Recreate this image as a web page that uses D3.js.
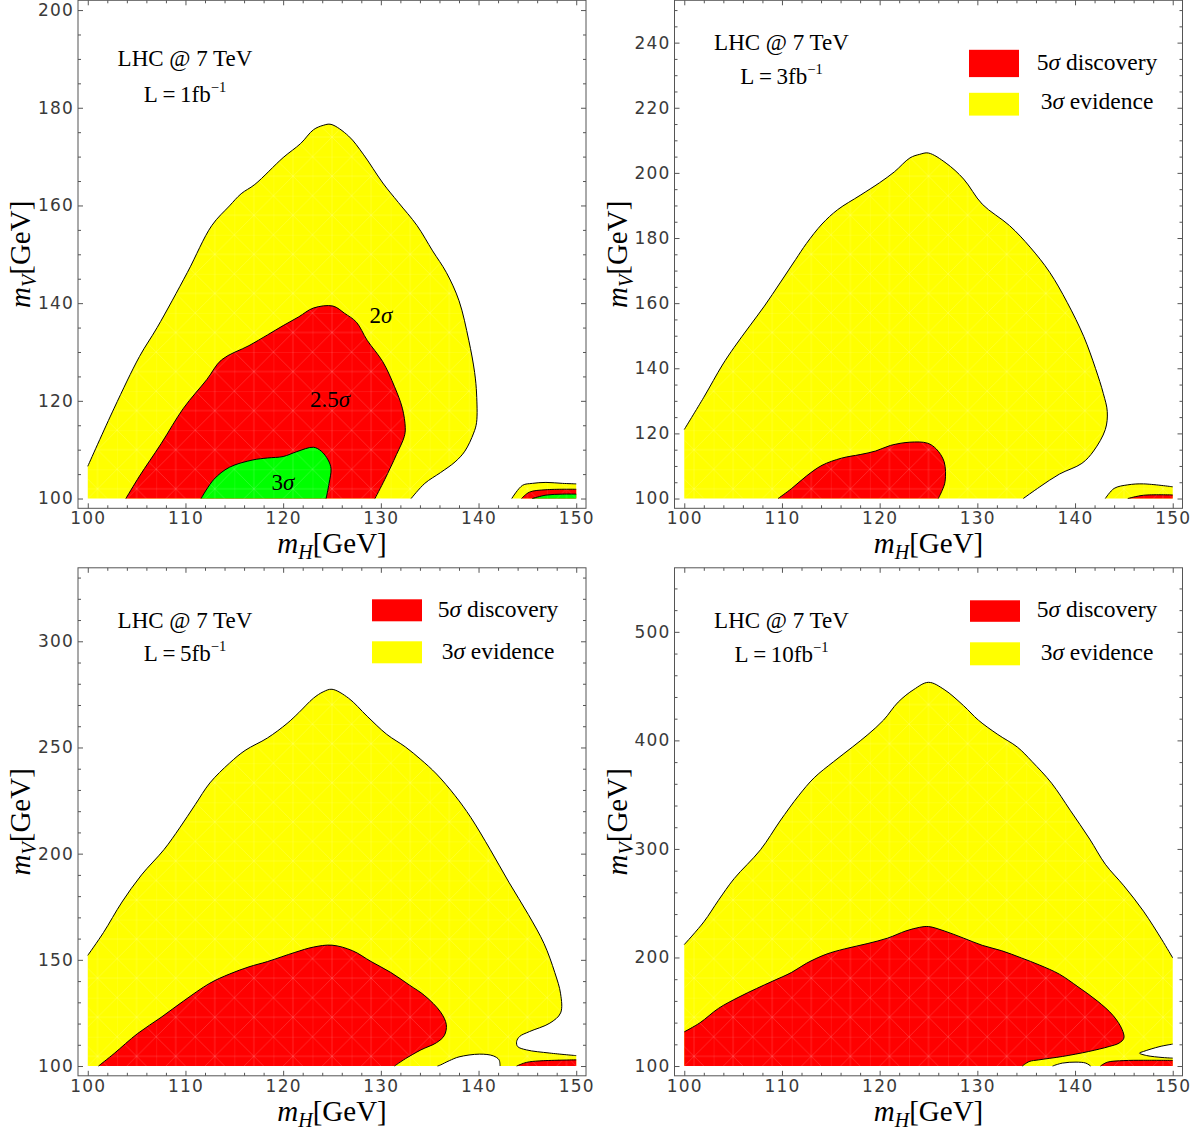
<!DOCTYPE html>
<html>
<head>
<meta charset="utf-8">
<script src="https://cdn.jsdelivr.net/npm/d3@7"></script>
<style>
body { margin: 0; background: #fff; }
svg { display: block; }
svg text { font-family: "Liberation Serif", "Times New Roman", serif; fill: #000; }
.axis .tick text { font-family: "DejaVu Sans", sans-serif; font-size: 17px; fill: #3a3a3a; letter-spacing: 1.2px; }
.axis .tick line { stroke: #555; }
</style>
</head>
<body>
<script>
var width = 1200, height = 1130;
var size = 508;          // side of each square frame
var yBase = 100;         // lower edge of the scanned region

// mH axis, same for all panels
var xDomain = [99, 151];
var xTicks = [100, 110, 120, 130, 140, 150];
var xMinorStep = 2;

// ---- panel 1 : L = 1 fb^-1 ----
var p1Ticks = [100, 120, 140, 160, 180, 200];
var p1Yellow = [[100,106.6],[102.7,118.5],[105.3,129.1],[107.1,135],[110.2,146.3],[112.7,155.9],[114.5,159.9],[115.7,162.4],[117.1,164.3],[120,169.8],[121.8,172.7],[123.1,175.5],[124.1,176.4],[124.9,176.6],[126.7,174.2],[128.2,170.5],[130.2,164.6],[131.8,160.6],[133.7,155.9],[135.3,150.7],[136.7,146.3],[138,140.5],[139,132.4],[139.6,125.8],[139.8,121.4],[139.8,115.6],[139.5,113.4],[138.6,109.7],[137.6,107.5],[136.1,105.3],[134.5,103.1],[133.1,100]];
var p1Red = [[103.9,100],[105.3,104.6],[107.5,111.2],[109.8,118.5],[112.2,124.4],[113.7,128.4],[116.5,131.3],[118.4,133.5],[120,135.4],[121.6,137.2],[123.1,139],[125.1,139.4],[126.3,137.9],[127.5,136.1],[128.6,132.4],[130.2,128],[131.4,122.9],[132.2,118.5],[132.5,114.5],[132.4,112.7],[131.6,109],[130.4,103.9],[129.4,100]];
var p1Green = [[111.6,100],[112.9,103.9],[114.5,106.4],[116.9,107.9],[118.4,108.3],[120,108.6],[121.4,109.6],[123.1,110.5],[123.9,109.7],[124.6,107.9],[124.9,106.1],[124.7,103.1],[124.4,100]];
var p1CornerYellow = [[143.4,100],[144.5,102.7],[145.5,103.1],[146.9,103.3],[148.6,103.1],[150,103]];
var p1CornerRed = [[144.4,100],[145.2,101.3],[146.9,101.8],[150,101.9]];
var p1CornerGreen = [[145.5,100],[146.9,100.7],[148.6,100.9],[150,100.9]];

// ---- panel 2 : L = 3 fb^-1 ----
var p2Ticks = [100, 120, 140, 160, 180, 200, 220, 240];
var p2Yellow = [[100,121.2],[102,131.1],[103.9,141],[105.1,146.4],[106.7,153],[108.2,159.1],[109.8,166.2],[111.4,173.4],[112.5,178.3],[114.1,184.3],[115.7,188.7],[118,193.1],[120,197],[121.5,200.3],[123.1,204.6],[124.1,205.7],[125,206.1],[126.8,203],[128.6,198.1],[130.5,190.4],[133.3,183.8],[135.4,177.2],[137.4,169.5],[139.2,160.2],[140.9,149.7],[142.1,139.9],[142.9,132.2],[143.3,126.7],[143.1,121.2],[141.9,114.6],[140.7,110.8],[138.4,107.5],[136.4,103.6],[134.7,100]];
var p2Red = [[109.6,100],[111,103.1],[112.5,106.9],[114.1,110.2],[116.1,112.4],[118,113.5],[119.6,114.6],[121.1,116.3],[123.1,117.3],[124.9,117],[125.8,115.2],[126.6,111.3],[126.7,105.3],[126.4,102.5],[126,100]];
var p2CornerYellow = [[143.1,100],[144,103.1],[145.4,104.2],[147,104.5],[150,103.6]];
var p2CornerRed = [[145.4,100],[147,101],[150,101.1]];

// ---- panel 3 : L = 5 fb^-1 ----
var p3Ticks = [100, 150, 200, 250, 300];
var p3Yellow = [[100,152.1],[101.6,162.8],[103.5,177.2],[105.5,190],[107.8,201.9],[109.4,212.1],[111,223.1],[112.5,233.3],[114.5,242.6],[116.1,248.6],[118.4,254.5],[120.4,261.3],[121.6,266.4],[123.1,273.2],[124.1,276.2],[125,277.4],[126.7,273.2],[128.6,264.7],[130.6,256.2],[132.5,250.3],[134.1,244.3],[135.7,237.5],[137.6,227.3],[139.2,217.1],[141.2,201.9],[143.1,186.6],[145.1,171.3],[146.7,157.7],[147.8,144.1],[148.4,134],[148.4,125],[147.3,120.2],[145.2,116.2],[144.2,113.9],[143.9,111.5],[144,109.2],[144.9,107.6],[147.3,106.1],[150,104.9]];
var p3Hole = [[142.2,100],[142.1,102.9],[141.5,104.8],[140.1,105.6],[138,104.3],[137,102.5],[136.1,100.5],[135.8,100]];
var p3Red = [[101.1,100],[102.7,105.9],[105.1,115.3],[107.5,122.9],[109.8,130.6],[112.5,139],[114.5,143.3],[116.5,146.7],[118.4,149.2],[121.2,153.5],[123.1,156],[125,156.9],[127.1,154.3],[129,149.2],[131,144.1],[132.9,138.2],[134.5,133.1],[136.1,125.5],[136.7,119.5],[136.5,114.4],[135.7,111],[134.1,107.6],[132.5,103.4],[131.4,100]];
var p3CornerRed = [[143.9,100],[144.9,101.7],[146.2,102.4],[150,102.9]];

// ---- panel 4 : L = 10 fb^-1 ----
var p4Ticks = [100, 200, 300, 400, 500];
var p4Yellow = [[100,211.9],[102,232.8],[103.5,252.7],[105.1,272.6],[107.8,299.2],[109.8,325.7],[111.7,349],[113.3,365.6],[115.3,380.5],[117.2,393.8],[118.8,405.4],[120.4,418.7],[121.9,435.3],[123.5,446.9],[125,453.5],[126.6,446.9],[128.6,431.9],[130.1,418.7],[132.1,405.4],[134.1,393.8],[135.6,380.5],[137.6,360.6],[139.5,335.7],[141.5,309.1],[143.1,285.9],[145,266],[147,242.7],[148.9,216.2],[150,199.6]];
var p4Notch = [[150,120.2],[148.7,118],[147,113.4],[146.6,111.9],[147.3,109.7],[149,107.8],[150,107.3]];
var p4Hole = [[141.6,100],[141.1,102.7],[140.1,103.6],[138.7,102.7],[137.7,100]];
var p4Red = [[100,131.5],[101.6,139.8],[103.5,153.1],[105.5,163.1],[107.4,171.4],[109,178],[111,186.3],[112.5,194.6],[114.5,202.9],[116.4,207.9],[118.8,212.9],[120.8,217.8],[122.7,224.5],[124.1,227.8],[125,228.5],[126.6,224.5],[128.6,217.8],[130.5,211.2],[132.5,206.2],[134.5,199.6],[136.4,192.9],[138.4,184.6],[140.3,173],[142.3,159.8],[143.9,146.5],[144.8,134],[145,125.7],[144.5,121.1],[143.5,118],[141.4,113.4],[138.7,108.8],[136.3,105.7],[135.3,104.1],[134.6,100]];
var p4CornerRed = [[142.6,100],[143.3,103.5],[145,105],[147,105.3],[150,105.2]];

var YELLOW = "#ffff00", RED = "#ff0000", GREEN = "#00ff00";

var panels = [
    {left: 78, top: 0.3, yDomain: [98, 202], yTicks: p1Ticks, yMinor: 5, lumi: "1",
     lhcY: 66, lumiY: 102, legend: null,
     regions: [
        {fill: YELLOW, pieces: [p1Yellow]}, {fill: YELLOW, pieces: [p1CornerYellow]},
        {fill: RED, pieces: [p1Red]}, {fill: RED, pieces: [p1CornerRed]},
        {fill: GREEN, pieces: [p1Green]}, {fill: GREEN, pieces: [p1CornerGreen]}],
     labels: [{num: "2", x: 381, y: 323}, {num: "2.5", x: 330, y: 407}, {num: "3", x: 283, y: 490}]},
    {left: 674.5, top: 0.3, yDomain: [97, 253], yTicks: p2Ticks, yMinor: 5, lumi: "3",
     lhcY: 50, lumiY: 84,
     legend: {rx: 294.5, tx: 422.5, red: [49.5, 27.3], yellow: [92.5, 22.8], ty: [70, 108.5]},
     regions: [
        {fill: YELLOW, pieces: [p2Yellow]}, {fill: YELLOW, pieces: [p2CornerYellow]},
        {fill: RED, pieces: [p2Red]}, {fill: RED, pieces: [p2CornerRed]}],
     labels: []},
    {left: 78, top: 567.8, yDomain: [95.4, 334.6], yTicks: p3Ticks, yMinor: 10, lumi: "5",
     lhcY: 60, lumiY: 93.5,
     legend: {rx: 294, tx: 420, red: [31.5, 22], yellow: [73.5, 22], ty: [49.5, 91.5]},
     regions: [
        {fill: YELLOW, pieces: [p3Yellow, p3Hole]},
        {fill: RED, pieces: [p3Red]}, {fill: RED, pieces: [p3CornerRed]}],
     labels: []},
    {left: 674.5, top: 567.8, yDomain: [91, 559], yTicks: p4Ticks, yMinor: 20, lumi: "10",
     lhcY: 60.5, lumiY: 94,
     legend: {rx: 295.5, tx: 422.5, red: [32.5, 21.5], yellow: [74.5, 23], ty: [49.5, 92.5]},
     regions: [
        {fill: YELLOW, pieces: [p4Yellow, p4Notch, p4Hole]},
        {fill: RED, pieces: [p4Red]}, {fill: RED, pieces: [p4CornerRed]}],
     labels: []}
];

var svg = d3.select("body").append("svg")
    .attr("width", width)
    .attr("height", height);

var defs = svg.append("defs");

// faint white mesh seams seen inside the filled regions
var cell = 19.54;
defs.append("pattern")
    .attr("id", "mesh")
    .attr("patternUnits", "userSpaceOnUse")
    .attr("width", cell * 2)
    .attr("height", cell * 2)
  .append("path")
    .attr("d", "M0,0V" + 2*cell + "M" + cell + ",0V" + 2*cell + "M0,0H" + 2*cell + "M0," + cell + "H" + 2*cell +
               "M0,0L" + 2*cell + "," + 2*cell + "M" + 2*cell + ",0L0," + 2*cell)
    .attr("fill", "none")
    .attr("stroke", "#fff")
    .attr("stroke-opacity", 0.22)
    .attr("stroke-width", 0.7);

panels.forEach(function (p, i) { drawPanel(p, i); });

function sigma(text, num, rest) {
    text.append("tspan").text(num);
    text.append("tspan").attr("font-style", "italic").text("\u03c3");
    if (rest) text.append("tspan").text(rest);
}

function drawPanel(p, i) {
    var g = svg.append("g").attr("transform", "translate(" + p.left + "," + p.top + ")");

    var x = d3.scaleLinear().domain(xDomain).range([0, size]);
    var y = d3.scaleLinear().domain(p.yDomain).range([size, 0]);

    defs.append("clipPath").attr("id", "clip" + i)
        .append("rect").attr("width", size).attr("height", size);

    var plot = g.append("g").attr("clip-path", "url(#clip" + i + ")");

    var smooth = d3.line()
        .x(function (d) { return x(d[0]); })
        .y(function (d) { return y(d[1]); })
        .curve(d3.curveCatmullRom.alpha(0.5));

    //fill every region: smooth contour pieces joined along the lower edge
    p.regions.forEach(function (r) {
        var d = r.pieces.map(function (c, k) {
            var s = smooth(c);
            if (k > 0) s = "L" + s.slice(1);
            var last = c[c.length - 1];
            return s + "L" + x(last[0]) + "," + y(yBase);
        }).join("");
        d += "L" + x(r.pieces[0][0][0]) + "," + y(yBase) + "Z";
        plot.append("path").attr("d", d).attr("fill", r.fill);
        plot.append("path").attr("d", d).attr("fill", "url(#mesh)");
    });

    //contour lines
    p.regions.forEach(function (r) {
        r.pieces.forEach(function (c) {
            plot.append("path")
                .attr("d", smooth(c))
                .attr("fill", "none")
                .attr("stroke", "#000")
                .attr("stroke-width", 1);
        });
    });

    //ticks
    var xMinor = d3.range(xTicks[0], xTicks[xTicks.length - 1] + 0.1, xMinorStep)
        .filter(function (v) { return xTicks.indexOf(v) < 0; });
    var yMinor = d3.range(p.yTicks[0], p.yDomain[1], p.yMinor)
        .filter(function (v) { return p.yTicks.indexOf(v) < 0; });

    function axis(gen, tx, ty, values, len, labels) {
        var a = gen.tickValues(values).tickSize(-len).tickSizeOuter(0).tickPadding(4);
        if (!labels) a.tickFormat("");
        var ag = g.append("g").attr("class", "axis")
            .attr("transform", "translate(" + tx + "," + ty + ")")
            .call(a);
        ag.select(".domain").remove();
        return ag;
    }
    axis(d3.axisBottom(x), 0, size, xTicks, 5, true);
    axis(d3.axisBottom(x), 0, size, xMinor, 3, false);
    axis(d3.axisTop(x), 0, 0, xTicks, 5, false);
    axis(d3.axisTop(x), 0, 0, xMinor, 3, false);
    axis(d3.axisLeft(y), 0, 0, p.yTicks, 5, true);
    axis(d3.axisLeft(y), 0, 0, yMinor, 3, false);
    axis(d3.axisRight(y), size, 0, p.yTicks, 5, false);
    axis(d3.axisRight(y), size, 0, yMinor, 3, false);

    g.append("rect")
        .attr("width", size)
        .attr("height", size)
        .attr("fill", "none")
        .attr("stroke", "#555")
        .attr("stroke-width", 1);

    //axis titles
    var xl = g.append("text")
        .attr("x", size / 2)
        .attr("y", size + 45)
        .attr("text-anchor", "middle")
        .attr("font-size", 29);
    xl.append("tspan").attr("font-style", "italic").text("m");
    xl.append("tspan").attr("font-style", "italic").attr("font-size", 20).attr("dy", 6).text("H");
    xl.append("tspan").attr("dy", -6).text("[GeV]");

    var yl = g.append("text")
        .attr("transform", "translate(-48," + (size / 2) + ") rotate(-90)")
        .attr("text-anchor", "middle")
        .attr("font-size", 29);
    yl.append("tspan").attr("font-style", "italic").text("m");
    yl.append("tspan").attr("font-style", "italic").attr("font-size", 20).attr("dy", 6).text("V");
    yl.append("tspan").attr("dy", -6).text("[GeV]");

    //LHC @ 7 TeV and luminosity
    g.append("text")
        .attr("x", 107)
        .attr("y", p.lhcY)
        .attr("text-anchor", "middle")
        .attr("font-size", 23)
        .text("LHC @ 7 TeV");

    var lt = g.append("text")
        .attr("x", 107)
        .attr("y", p.lumiY)
        .attr("text-anchor", "middle")
        .attr("font-size", 23);
    lt.append("tspan").text("L\u2009=\u20091fb".replace("1", p.lumi));
    lt.append("tspan").attr("font-size", 14.5).attr("dy", -10).text("\u22121");

    //significance labels on the contours
    p.labels.forEach(function (l) {
        var t = g.append("text")
            .attr("x", l.x - p.left)
            .attr("y", l.y - p.top)
            .attr("text-anchor", "middle")
            .attr("font-size", 23);
        sigma(t, l.num);
    });

    //legend
    if (p.legend) {
        var lg = p.legend;
        g.append("rect").attr("x", lg.rx).attr("y", lg.red[0])
            .attr("width", 50).attr("height", lg.red[1]).attr("fill", RED);
        g.append("rect").attr("x", lg.rx).attr("y", lg.yellow[0])
            .attr("width", 50).attr("height", lg.yellow[1]).attr("fill", YELLOW);
        var t1 = g.append("text").attr("x", lg.tx).attr("y", lg.ty[0])
            .attr("text-anchor", "middle").attr("font-size", 23.5);
        sigma(t1, "5", " discovery");
        var t2 = g.append("text").attr("x", lg.tx).attr("y", lg.ty[1])
            .attr("text-anchor", "middle").attr("font-size", 23.5);
        sigma(t2, "3", " evidence");
    }
}
</script>
</body>
</html>
